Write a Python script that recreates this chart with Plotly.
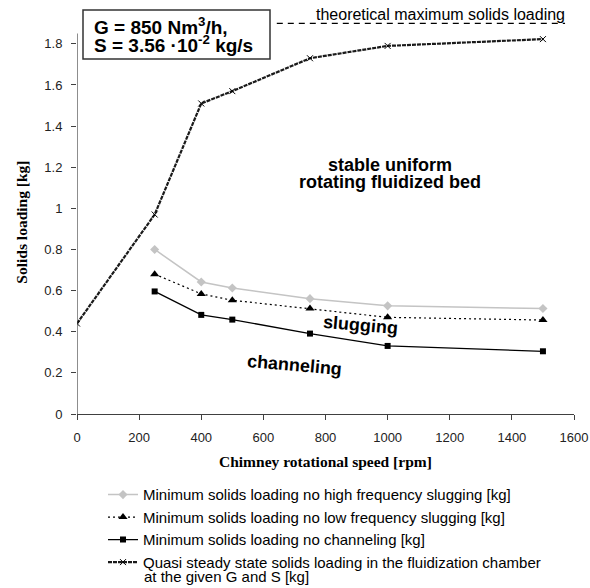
import plotly.graph_objects as go

# ---- data ----
speed_quasi = [0, 250, 400, 500, 750, 1000, 1500]
load_quasi = [0.44, 0.97, 1.51, 1.57, 1.73, 1.79, 1.823]

speed_min = [250, 400, 500, 750, 1000, 1500]
load_high_freq = [0.80, 0.642, 0.613, 0.561, 0.526, 0.513]
load_low_freq = [0.68, 0.584, 0.553, 0.513, 0.47, 0.457]
load_channeling = [0.596, 0.482, 0.459, 0.391, 0.331, 0.305]

theoretical_max = 1.9
y_axis_top = 1.85
x_ticks = [0, 200, 400, 600, 800, 1000, 1200, 1400, 1600]
y_ticks = [0, 0.2, 0.4, 0.6, 0.8, 1.0, 1.2, 1.4, 1.6, 1.8]
y_tick_text = ["0", "0.2", "0.4", "0.6", "0.8", "1", "1.2", "1.4", "1.6", "1.8"]

names = [
    "Minimum solids loading no high frequency slugging [kg]",
    "Minimum solids loading no low frequency slugging [kg]",
    "Minimum solids loading no channeling [kg]",
    "Quasi steady state solids loading in the fluidization chamber",
]
name_quasi_line2 = "at the given G and S [kg]"

SANS = "Liberation Sans, Arial, sans-serif"
SERIF = "Liberation Serif, Times New Roman, serif"

fig = go.Figure()
fig.add_trace(go.Scatter(
    x=speed_min, y=load_high_freq, name=names[0], mode="lines+markers",
    line=dict(color="#c4c4c4", width=1.5),
    marker=dict(symbol="diamond", size=7, color="#c4c4c4"),
))
fig.add_trace(go.Scatter(
    x=speed_min, y=load_low_freq, name=names[1], mode="lines+markers",
    line=dict(color="black", width=1.2, dash="2px,3px"),
    marker=dict(symbol="triangle-up", size=8, color="black"),
))
fig.add_trace(go.Scatter(
    x=speed_min, y=load_channeling, name=names[2], mode="lines+markers",
    line=dict(color="black", width=1.3),
    marker=dict(symbol="square", size=6, color="black"),
))
fig.add_trace(go.Scatter(
    x=speed_quasi, y=load_quasi, name=names[3], mode="lines+markers",
    line=dict(color="#1a1a1a", width=2.2, dash="4px,1px"),
    marker=dict(symbol="x-thin", size=6, color="black", line=dict(width=1, color="black")),
))

# y axis line up to the axis top
fig.add_shape(type="line", xref="x", yref="y", x0=0, x1=0, y0=0, y1=y_axis_top,
              line=dict(color="#404040", width=1.2))
# theoretical maximum dashed line
fig.add_shape(type="line", xref="paper", yref="y", x0=0.402, x1=0.982,
              y0=theoretical_max, y1=theoretical_max,
              line=dict(color="black", width=1.2, dash="6px,5px"))
# box around G,S text
fig.add_shape(type="rect", xref="paper", yref="paper",
              x0=(83 - 77) / 497, x1=(270 - 77) / 497,
              y0=(413.7 - 59) / 400.7, y1=(413.7 - 10) / 400.7,
              line=dict(color="#333333", width=1.5), fillcolor="white")

ann = []
def txt(text, x, y, size, bold=True, angle=0, font=SANS, xref="paper", yref="paper", xanchor="center"):
    t = f"<b>{text}</b>" if bold else text
    ann.append(dict(text=t, x=x, y=y, xref=xref, yref=yref, showarrow=False,
                    font=dict(family=font, size=size, color="black"),
                    textangle=angle, xanchor=xanchor, yanchor="middle"))

def px(x):
    return (x - 77) / 497
def py(y):
    return (413.7 - y) / 400.7

txt("G = 850 Nm<sup>3</sup>/h,", px(92), py(26), 19, xanchor="left")
txt("S = 3.56 ·10<sup>-2</sup> kg/s", px(92), py(44), 19, xanchor="left")
txt("theoretical maximum solids loading", px(440), py(14), 16, bold=False)
txt("stable uniform", px(390), py(165), 18)
txt("rotating fluidized bed", px(390), py(182), 18)
txt("slugging", px(360), py(325), 18, angle=5)
txt("channeling", px(294), py(365), 18, angle=5)
txt("Solids loading [kg]", px(21.5), py(222), 15.5, font=SERIF, angle=-90)
txt("Chimney rotational speed [rpm]", px(325.5), py(461), 15.5, font=SERIF)
txt(name_quasi_line2, px(141.5), py(576.5), 15, bold=False, xanchor="left")

fig.update_layout(
    width=590, height=588,
    margin=dict(l=77, r=16, t=13, b=174.3, pad=0, autoexpand=False),
    paper_bgcolor="white", plot_bgcolor="white",
    annotations=ann,
    showlegend=True,
    legend=dict(x=px(103), y=py(478), xanchor="left", yanchor="top",
                font=dict(family=SANS, size=15, color="black"),
                bgcolor="rgba(0,0,0,0)", tracegroupgap=0, itemwidth=30),
    xaxis=dict(range=[0, 1600], tickvals=x_ticks, showline=True, linecolor="#404040",
               linewidth=1.2, ticks="outside", ticklen=5, tickcolor="#404040",
               showgrid=False, zeroline=False,
               tickfont=dict(family=SANS, size=13, color="#222222"), ticklabelstandoff=6),
    yaxis=dict(range=[0, 1.95], tickvals=y_ticks, ticktext=y_tick_text, showline=False,
               ticks="outside", ticklen=5, tickcolor="#404040", showgrid=False, zeroline=False,
               tickfont=dict(family=SANS, size=13, color="#222222"), ticklabelstandoff=6),
)

fig.write_html("out.html")
